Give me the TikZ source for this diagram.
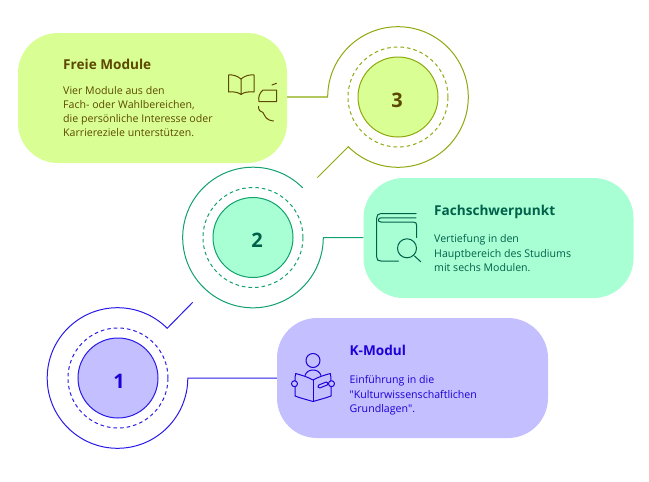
\documentclass[tikz,border=0pt]{standalone}
\usepackage{fontspec}
\setmainfont{Open Sans}[Ligatures=TeXOff]
\definecolor{limeF}{HTML}{D9FF94}\definecolor{limeL}{HTML}{8FA80F}\definecolor{limeT}{HTML}{5C4800}\definecolor{limeC}{HTML}{B4C860}
\definecolor{mintF}{HTML}{A8FFD4}\definecolor{mintL}{HTML}{12A06E}\definecolor{mintT}{HTML}{00604A}
\definecolor{violF}{HTML}{C4BFFF}\definecolor{violL}{HTML}{2A1AE8}\definecolor{violT}{HTML}{1C00D8}
\tikzset{
  panel/.style={rectangle,rounded corners=40pt,draw=none,fill=#1,minimum height=130pt,inner sep=0pt},
  hub/.style n args={2}{circle,minimum size=80pt,inner sep=0pt,fill=#1,draw=#2,line width=1pt},
  halo/.style={circle,minimum size=100pt,inner sep=0pt,draw=#1,line width=1pt,dash pattern=on 3.6pt off 3pt},
  ttl/.style={anchor=base west,inner sep=0pt,font=\fontsize{13.6pt}{15pt}\selectfont\bfseries,text=#1},
  txt/.style={anchor=base west,inner sep=0pt,font=\fontsize{10.6pt}{12pt}\selectfont,text=#1},
  num/.style={font=\fontsize{20pt}{22pt}\selectfont\bfseries,text=#1,inner sep=0pt},
  wire/.style={line width=1pt,draw=#1},
  ico/.style={line width=1pt,draw=#1,line cap=round,line join=round},
}
\begin{document}
\begin{tikzpicture}[x=1pt,y=-1pt]
\useasboundingbox (0,0) rectangle (649,482);
% panels
\node[panel=limeF,minimum width=269pt] (p3) at (152.5,98) {};
\node[panel=mintF,minimum width=270pt,minimum height=120pt] (p2) at (498.5,238) {};
\node[panel=violF,minimum width=271pt,minimum height=120pt] (p1) at (412.5,378) {};
% hubs
\node[halo=limeL] (h3) at (398,97) {};
\node[hub={limeF}{limeL}] (c3) at (398,97) {};
\node[num=limeT] at (397,100.5) {3};
\node[halo=mintL] (h2) at (253,237.5) {};
\node[hub={mintF}{mintL}] (c2) at (253,237.5) {};
\node[num=mintT] at (257,240.5) {2};
\node[halo=violL] (h1) at (118,378) {};
\node[hub={violF}{violL}] (c1) at (118,378) {};
\node[num=violT] at (119,381.5) {1};
% connectors with open rings
\coordinate (a3) at (327.7,97);
\coordinate (e3) at (317.5,177.5);
\coordinate (a2) at (302.7,187.8);
\coordinate (z2) at (323.3,237.5);
\coordinate (a1) at (187.8,378);
\coordinate (e1) at (192.7,302.3);
\draw[wire=limeC,line width=1.4pt] (p3.east |- a3) -- (a3);
\draw[wire=limeL] (a3) arc[start angle=180,end angle=495,radius=70.3] -- (e3);
\draw[wire=mintL] (a2) arc[start angle=-45,end angle=-360,radius=70.3] -- (p2.west |- z2);
\draw[wire=violL] (p1.west) -- (a1) arc[start angle=0,end angle=315,radius=70.3] -- (e1);
% texts
\node[ttl=limeT] (t3) at (63,69.5) {Freie Module};
\node[txt=limeT] (b31) at (63,94) {Vier Module aus den};
\node[txt=limeT] (b32) at (63,108) {Fach- oder Wahlbereichen,};
\node[txt=limeT] (b33) at (63,122.5) {die persönliche Interesse oder};
\node[txt=limeT] (b34) at (63,136.5) {Karriereziele unterstützen.};
\node[ttl=mintT] (t2) at (434,215.5) {Fachschwerpunkt};
\node[txt=mintT] (b21) at (434,242) {Vertiefung in den};
\node[txt=mintT] (b22) at (434,257) {Hauptbereich des Studiums};
\node[txt=mintT] (b23) at (434,271) {mit sechs Modulen.};
\node[ttl=violT] (t1) at (349.5,355.5) {K-Modul};
\node[txt=violT] (b11) at (349.5,383) {Einführung in die};
\node[txt=violT] (b12) at (349.5,398) {"Kulturwissenschaftlichen};
\node[txt=violT] (b13) at (349.5,412) {Grundlagen".};
% icon: open book and fragments
\draw[ico=limeT] (241,79) .. controls (237,75.5) and (232,74.5) .. (228.5,75) -- (228.5,92) .. controls (233,91.5) and (238,92) .. (241,94.5) .. controls (244,92) and (249,91.5) .. (254,92) -- (254,75) .. controls (250,74.5) and (245,75.5) .. (241,79) -- (241,94.5);
\draw[ico=limeT] (272,85) -- (276.5,83.3);
\draw[ico=limeT] (276.5,90) -- (263,90) .. controls (259.5,93) and (258,97) .. (259,101.5) -- (276.5,101.5) -- cycle;
\draw[ico=limeT] (258.5,106.5) .. controls (258.5,110) and (260,112) .. (263,112.5) .. controls (265.5,117) and (266,120) .. (273.5,121);
% icon: book with magnifier
\draw[ico=mintT] (416,213.5) -- (381,213.5) .. controls (378,213.5) and (376.7,215.5) .. (376.7,218) -- (376.7,257) .. controls (376.7,260) and (378,261) .. (381,261) -- (398.5,261);
\draw[ico=mintT] (416,217.8) -- (381,217.8) .. controls (378,217.8) and (377,222) .. (381,222) -- (413,222) .. controls (416,222) and (416.7,223) .. (416.7,226) -- (416.7,237.5);
\draw[ico=mintT] (407,248.3) circle[radius=9.5];
\draw[ico=mintT] (414.5,256) -- (420.7,261.7);
% icon: reading person
\draw[ico=violT] (313,360.5) circle[radius=7];
\draw[ico=violT] (305,375.5) .. controls (306,371.5) and (310,370) .. (313,370) .. controls (316,370) and (320,371.5) .. (321,375.5);
\draw[ico=violT] (313,380) -- (313,401.5);
\draw[ico=violT] (313,380) .. controls (308,377) and (301,375) .. (295.7,373.5) .. controls (295,376) and (295,378) .. (295,380.7) (295,386.7) -- (295,396) .. controls (300,398) and (308,400) .. (313,401.5) .. controls (318,400) and (326,398) .. (331,396) -- (331,386.7) (331,380.7) .. controls (331,378) and (331,376) .. (330.3,373.5) .. controls (325,375) and (318,377) .. (313,380);
\draw[ico=violT] (294.5,383.7) circle[radius=3];
\draw[ico=violT] (331.5,383.7) circle[radius=3];
\draw[ico=violT,rounded corners=1.5pt] (317.5,385.5) -- (327.5,381.5) -- (328.5,384.5) -- (318.5,388.5) -- cycle;
\end{tikzpicture}
\end{document}
